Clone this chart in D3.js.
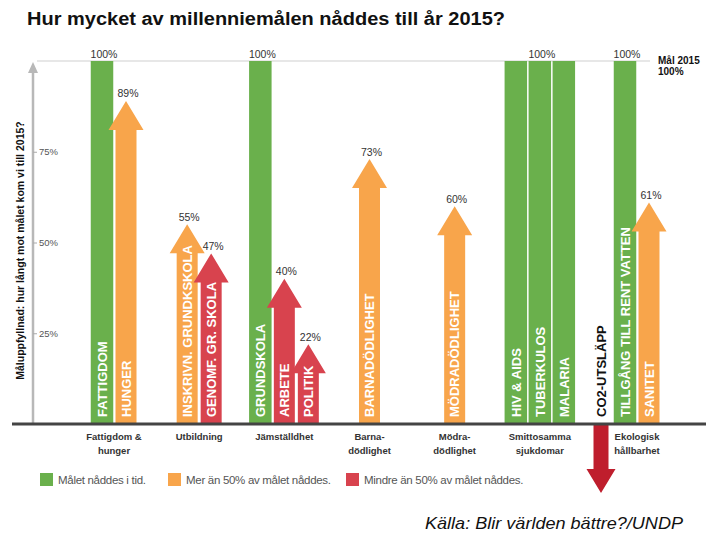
<!DOCTYPE html>
<html><head><meta charset="utf-8">
<script src="https://cdn.jsdelivr.net/npm/d3@7"></script>
<style>body{margin:0;background:#fff} svg{display:block;font-family:"Liberation Sans",Arial,sans-serif}</style>
</head><body>
<svg id="chart" width="720" height="540"></svg>
<script>
// ---------- data ----------
const title = "Hur mycket av millenniemålen nåddes till år 2015?";
const yAxisTitle = "Måluppfyllnad: hur långt mot målet kom vi till 2015?";
const categories = [["Fattigdom &","hunger"],["Utbildning"],["Jämställdhet"],["Barna-","dödlighet"],["Mödra-","dödlighet"],["Smittosamma","sjukdomar"],["Ekologisk","hållbarhet"]];
const goals = ["FATTIGDOM","HUNGER","INSKRIVN. GRUNDKSKOLA","GENOMF. GR. SKOLA","GRUNDSKOLA","ARBETE","POLITIK","BARNADÖDLIGHET","MÖDRADÖDLIGHET","HIV & AIDS","TUBERKULOS","MALARIA","CO2-UTSLÄPP","TILLGÅNG TILL RENT VATTEN","SANITET"];
const goalCategory = [0,0,1,1,2,2,2,3,4,5,5,5,6,6,6];
const values = [100,89,55,47,100,40,22,73,60,100,100,100,-19,100,61];
const status = ["met","over50","over50","under50","met","under50","under50","over50","over50","met","met","met","reversed","met","over50"];
const valueLabels = ["100%","89%","55%","47%","100%","40%","22%","73%","60%","","100%","","","100%","61%"];
const yTicks = [25,50,75];
const goalValue = 100;
const goalLabel = ["Mål 2015","100%"];
const legendKeys = ["met","over50","under50"];
const legendLabels = ["Målet nåddes i tid.","Mer än 50% av målet nåddes.","Mindre än 50% av målet nåddes."];
const source = "Källa: Blir världen bättre?/UNDP";

// ---------- styles ----------
const colors = {met:"#6ab04c", over50:"#f8a54b", under50:"#d8434e", reversed:"#bf1e2d"};
const svg = d3.select("#chart");
const y = d3.scaleLinear().domain([0,100]).range([424,61]);
const xGroup = d3.scalePoint().domain(d3.range(categories.length)).range([114,625]);
const step = 24;

// goal centers through scales
const groupCount = d3.rollup(goalCategory.map((g,i)=>({g,i})), v=>v.length, d=>d.g);
const seen = {};
const cx = goals.map((_,i)=>{
  const g = goalCategory[i];
  const k = seen[g] = (seen[g] === undefined ? 0 : seen[g]+1);
  const n = groupCount.get(g);
  return xGroup(g) + (k - (n-1)/2)*step;
});

// title
svg.append("text").attr("x",27).attr("y",25).attr("font-size",18).attr("font-weight","bold")
  .attr("fill","#111").attr("textLength",478).attr("lengthAdjust","spacingAndGlyphs").text(title);

// 100% goal line
svg.append("line").attr("x1",37).attr("x2",650).attr("y1",y(goalValue)).attr("y2",y(goalValue))
  .attr("stroke","#cfcfcf").attr("stroke-width",1);
svg.append("text").attr("x",658).attr("y",y(goalValue)+3).attr("font-size",10).attr("font-weight","bold")
  .attr("fill","#111").text(goalLabel[0]);
svg.append("text").attr("x",658).attr("y",y(goalValue)+14).attr("font-size",10).attr("font-weight","bold")
  .attr("fill","#111").text(goalLabel[1]);

// y axis (arrow + ticks)
const axisX = 33;
svg.append("line").attr("x1",axisX).attr("x2",axisX).attr("y1",y(0)).attr("y2",y(goalValue)+10)
  .attr("stroke","#b8b8b8").attr("stroke-width",2.5);
svg.append("path").attr("d",`M${axisX-5},${y(goalValue)+12}L${axisX},${y(goalValue)+1}L${axisX+5},${y(goalValue)+12}Z`).attr("fill","#b8b8b8");
const yAxis = svg.append("g").attr("transform",`translate(${axisX},0)`)
  .call(d3.axisRight(y).tickValues(yTicks).tickFormat(d=>d+"%").tickSize(4).tickPadding(2));
yAxis.select(".domain").remove();
yAxis.selectAll(".tick line").attr("stroke","#aaa");
yAxis.selectAll(".tick text").attr("font-size",9.5).attr("fill","#555").attr("font-family","Liberation Sans, Arial, sans-serif");

svg.append("text").attr("transform",`translate(24,${(y(0)+y(goalValue))/2+8}) rotate(-90)`)
  .attr("text-anchor","middle").attr("font-size",10.5).attr("font-weight","bold").attr("fill","#111")
  .text(yAxisTitle);

// marks
const shaftW = 21, headW = 35, headH = 29;
const revShaft = 15, revHeadW = 29, revHeadH = 24;
const labelSize = 13;
function arrowPath(c, v, sw, hw, hh){
  const base = y(0), tip = y(v);
  const dir = v >= 0 ? 1 : -1;
  const hb = tip + dir*hh;
  return `M${c-sw/2},${base}L${c-sw/2},${hb}L${c-hw/2},${hb}L${c},${tip}L${c+hw/2},${hb}L${c+sw/2},${hb}L${c+sw/2},${base}Z`;
}
const marks = svg.append("g");
goals.forEach((name,i)=>{
  const s = status[i], v = values[i], c = cx[i];
  if (s === "met") {
    marks.append("rect").attr("x",c-step/2+0.75).attr("width",step-1.5)
      .attr("y",y(v)).attr("height",y(0)-y(v)).attr("fill",colors[s]);
  } else if (s === "reversed") {
    marks.append("path").attr("d",arrowPath(c,v,revShaft,revHeadW,revHeadH)).attr("fill",colors[s]);
  } else {
    marks.append("path").attr("d",arrowPath(c,v,shaftW,headW,headH)).attr("fill",colors[s]);
  }
  marks.append("text").attr("transform",`translate(${c+labelSize*0.36},${y(0)-7}) rotate(-90)`)
    .attr("font-size",labelSize).attr("font-weight","bold")
    .attr("fill", s === "reversed" ? "#111" : "#fff").text(name);
  if (valueLabels[i]) {
    marks.append("text").attr("x",c+2).attr("y",y(v)-3.5).attr("text-anchor","middle")
      .attr("font-size",10.5).attr("fill","#333").text(valueLabels[i]);
  }
});

// baseline
svg.append("line").attr("x1",12).attr("x2",706).attr("y1",y(0)).attr("y2",y(0))
  .attr("stroke","#444").attr("stroke-width",3);

// category labels
categories.forEach((lines,g)=>{
  const idx = goals.map((_,i)=>i).filter(i=>goalCategory[i]===g && values[i]>0);
  const lx = d3.mean(idx, i=>cx[i]);
  lines.forEach((t,j)=>{
    svg.append("text").attr("x",lx).attr("y",y(0)+16+j*13.5).attr("text-anchor","middle")
      .attr("font-size",9.5).attr("font-weight","bold").attr("fill","#333").text(t);
  });
});

// legend
const legendX = [40,168,346];
legendKeys.forEach((k,i)=>{
  svg.append("rect").attr("x",legendX[i]).attr("y",473).attr("width",13).attr("height",13).attr("fill",colors[k]);
  svg.append("text").attr("x",legendX[i]+18).attr("y",484).attr("font-size",11.5).attr("fill","#555")
    .attr("letter-spacing",-0.3).text(legendLabels[i]);
});

// source
svg.append("text").attr("x",425).attr("y",529).attr("font-size",17).attr("font-style","italic")
  .attr("fill","#111").attr("textLength",258).attr("lengthAdjust","spacingAndGlyphs").text(source);
</script>
</body></html>
